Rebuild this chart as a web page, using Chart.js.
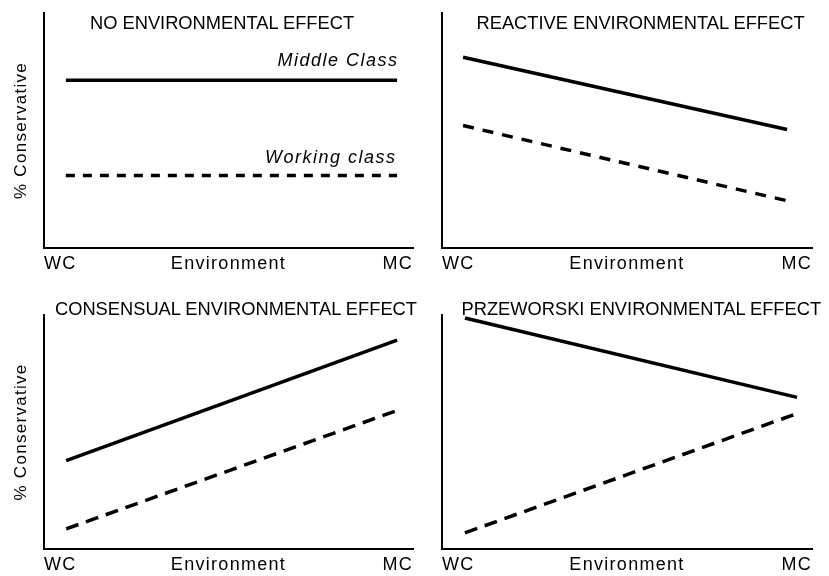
<!DOCTYPE html>
<html>
<head>
<meta charset="utf-8">
<script src="https://cdn.jsdelivr.net/npm/chart.js@4"></script>
<style>
  html, body { margin: 0; padding: 0; background: #fff; }
  #wrap { position: relative; width: 829px; height: 576px; overflow: hidden; background: #fff; }
  canvas { position: absolute; }
  .ttl { position: absolute; font-family: "Liberation Sans", Arial, sans-serif; font-size: 18.3px; line-height: 18.3px; color: #000; white-space: nowrap; }
  .lbl { position: absolute; font-family: "Liberation Sans", Arial, sans-serif; font-style: italic; font-size: 18px; line-height: 18px; letter-spacing: 1.5px; color: #000; white-space: nowrap; text-align: right; }
</style>
</head>
<body>
<div id="wrap">
  <canvas id="c1" width="420" height="285" style="left:0px;top:0px"></canvas>
  <canvas id="c2" width="409" height="285" style="left:420px;top:0px"></canvas>
  <canvas id="c3" width="420" height="297" style="left:0px;top:285px"></canvas>
  <canvas id="c4" width="409" height="297" style="left:420px;top:285px"></canvas>
  <div class="ttl" id="t1" style="left:90px;top:14.3px"></div>
  <div class="ttl" id="t2" style="left:476.5px;top:14.3px"></div>
  <div class="ttl" id="t3" style="left:55px;top:299.5px"></div>
  <div class="ttl" id="t4" style="left:461.5px;top:299.5px"></div>
  <div class="lbl" id="lm" style="right:430.5px;top:51px"></div>
  <div class="lbl" id="lw" style="right:432.5px;top:148px"></div>
</div>
<script>
// ---- data ----
const envTickLabels = ['WC', 'Environment', 'MC'];
const envPoints = [0, 1];            // WC environment, MC environment
const yAxisLabel = '% Conservative';
const panelTitles = [
  'NO ENVIRONMENTAL EFFECT',
  'REACTIVE ENVIRONMENTAL EFFECT',
  'CONSENSUAL ENVIRONMENTAL EFFECT',
  'PRZEWORSKI ENVIRONMENTAL EFFECT'
];
const seriesNames = ['Middle Class', 'Working class'];

const noEffectMiddle = [71.4, 71.4];
const noEffectWorking = [30.8, 30.8];
const reactiveMiddle = [81.2, 50.4];
const reactiveWorking = [52.1, 20.1];
const consensualMiddle = [37.8, 89.3];
const consensualWorking = [8.6, 59.2];
const przeworskiMiddle = [98.7, 64.8];
const przeworskiWorking = [6.9, 57.9];

// ---- text ----
['t1','t2','t3','t4'].forEach((id, i) => document.getElementById(id).textContent = panelTitles[i]);
document.getElementById('lm').textContent = seriesNames[0];
document.getElementById('lw').textContent = seriesNames[1];

const spacingPlugin = {
  id: 'spacing',
  beforeDraw(chart) { try { chart.ctx.letterSpacing = '1.3px'; } catch (e) {} },
  afterDraw(chart) { try { chart.ctx.letterSpacing = '0px'; } catch (e) {} }
};

function toXY(vals) { return envPoints.map((x, i) => ({ x: x, y: vals[i] })); }

function makePanel(id, middle, working, opts) {
  const ctx = document.getElementById(id);
  return new Chart(ctx, {
    type: 'line',
    data: {
      datasets: [
        { label: seriesNames[0], data: toXY(middle), borderColor: '#000', borderWidth: 3.5,
          pointRadius: 0, tension: 0, fill: false },
        { label: seriesNames[1], data: toXY(working), borderColor: '#000', borderWidth: 3.5,
          borderDash: opts.dash, pointRadius: 0, tension: 0, fill: false }
      ]
    },
    options: {
      responsive: false,
      animation: false,
      devicePixelRatio: 1,
      layout: { padding: opts.pad },
      plugins: { legend: { display: false }, tooltip: { enabled: false }, title: { display: false } },
      scales: {
        x: {
          type: 'linear', min: opts.xMin, max: opts.xMax,
          grid: { display: false, drawTicks: false, tickLength: 0 },
          border: { display: true, color: '#000', width: 2 },
          afterBuildTicks(scale) {
            scale.ticks = [{ value: scale.min }, { value: (scale.min + scale.max) / 2 }, { value: scale.max }];
          },
          ticks: {
            autoSkip: false, maxRotation: 0, align: 'inner', padding: 5, color: '#000',
            font: { family: '"Liberation Sans", Arial, sans-serif', size: 18 },
            callback(v, i) { return envTickLabels[i]; }
          }
        },
        y: {
          min: 0, max: 100,
          grid: { display: false, drawTicks: false, tickLength: 0 },
          border: { display: true, color: '#000', width: 2 },
          ticks: { display: false },
          title: {
            display: opts.yTitle, text: yAxisLabel, color: '#000',
            padding: { top: 0, bottom: 12 },
            font: { family: '"Liberation Sans", Arial, sans-serif', size: 17 }
          }
        }
      }
    },
    plugins: [spacingPlugin]
  });
}

makePanel('c1', noEffectMiddle, noEffectWorking,
  { xMin: -0.066, xMax: 1.048, yTitle: true, dash: [9, 8],
    pad: { left: 11.6, right: 7, top: 13, bottom: 5.4 } });
makePanel('c2', reactiveMiddle, reactiveWorking,
  { xMin: -0.065, xMax: 1.077, yTitle: false, dash: [11, 9],
    pad: { left: 22, right: 17, top: 13, bottom: 5.4 } });
makePanel('c3', consensualMiddle, consensualWorking,
  { xMin: -0.067, xMax: 1.048, yTitle: true, dash: [13, 8],
    pad: { left: 11.6, right: 7, top: 30, bottom: 1.4 } });
makePanel('c4', przeworskiMiddle, przeworskiWorking,
  { xMin: -0.069, xMax: 1.045, yTitle: false, dash: [13, 8],
    pad: { left: 22, right: 17, top: 30, bottom: 1.4 } });
</script>
</body>
</html>
